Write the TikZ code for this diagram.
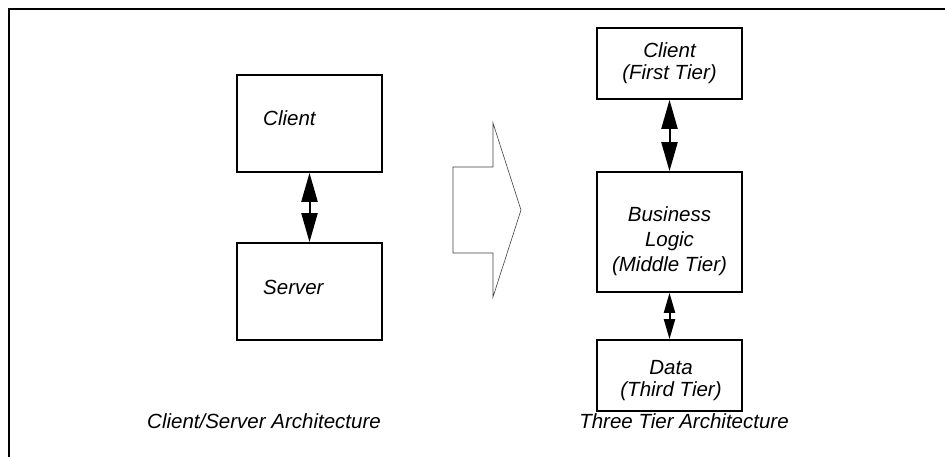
\documentclass[tikz,border=0pt]{standalone}
\usepackage{fontspec}
\setmainfont{Liberation Sans}
\usepackage{tikz}
\usetikzlibrary{arrows.meta}
\tikzset{%
    box/.style={draw,line width=1.6bp,minimum width=145bp,inner sep=0pt},
    txt/.style={inner sep=0pt,align=center,font=\fontsize{20.5bp}{22bp}\selectfont\itshape},
    bigtwo/.style={line width=2bp,{Triangle[length=29bp,width=16bp]}-{Triangle[length=29bp,width=16bp]}},
    smalltwo/.style={line width=2bp,{Triangle[length=20bp,width=11bp]}-{Triangle[length=20bp,width=11bp]}}
}
\begin{document}
\begin{tikzpicture}[x=1bp,y=-1bp]
        \useasboundingbox (0,0) rectangle (945,457);
        \draw[line width=1.3bp] (9,457) -- (9,9) -- (945,9);

        % client/server
        \node[box,minimum height=97bp] (cl) at (309.5,123.5){};
        \node[box,minimum height=97bp] (sv) at (309.5,291.5){};
        \node[txt,anchor=west] (clt) at (263,118){Client};
        \node[txt,anchor=west] (svt) at (263,287){Server};
        \draw[bigtwo] (cl) -- (sv);

        % transition arrow
        \draw[line width=0.6bp,black!75] (453,167) -- (493,167) -- (493,123) -- (521,210)
            -- (493,297) -- (493,253) -- (453,253) -- cycle;

        % three tier
        \node[box,minimum height=71bp] (ft) at (669.5,63.5){};
        \node[box,minimum height=120bp] (mt) at (669.5,232){};
        \node[box,minimum height=71bp] (tt) at (669.5,375.5){};
        \node[txt] (ftt) at (669.5,63.5){Client\\(First Tier)};
        \node[txt] (mtt) at (669.5,241){Business\\[3bp]Logic\\[3bp](Middle Tier)};
        \node[txt] (ttt) at (671,380.5){Data\\(Third Tier)};
        \draw[bigtwo] (ft) -- (mt);
        \draw[smalltwo] (mt) -- (tt);

        \node[txt] (cap1) at (264,421){Client/Server Architecture};
        \node[txt] (cap2) at (684,421){Three Tier Architecture};
    \end{tikzpicture}
\end{document}
